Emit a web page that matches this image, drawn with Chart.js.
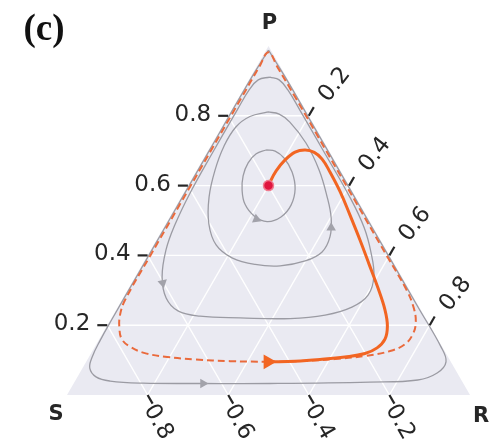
<!DOCTYPE html>
<html>
<head>
<meta charset="utf-8">
<script src="https://cdn.jsdelivr.net/npm/chart.js@4.4.1/dist/chart.umd.min.js"></script>
<style>
  html, body { margin: 0; padding: 0; background: #fff; }
  #wrap { width: 495px; height: 447px; position: relative; }
</style>
</head>
<body>
<div id="wrap"><canvas id="chart"></canvas></div>
<script>
// ternary points are [P, R]; S = 1 - P - R
const TICKS = [0.2, 0.4, 0.6, 0.8];
const PANEL_LABEL = '(c)';
const CORNER_LABELS = { P: 'P', S: 'S', R: 'R' };

const FIXED_POINT = [[0.6, 0.2]];

// orange trajectory between the fixed point and the bottom arrow
const SPIRAL = [
  [0.602, 0.199], [0.642, 0.198], [0.673, 0.204], [0.696, 0.218], [0.702, 0.240],
  [0.695, 0.266], [0.676, 0.295], [0.639, 0.333], [0.582, 0.387], [0.516, 0.444],
  [0.444, 0.505], [0.375, 0.562], [0.307, 0.618], [0.244, 0.667], [0.198, 0.696],
  [0.160, 0.709], [0.135, 0.702], [0.119, 0.680], [0.109, 0.635], [0.102, 0.577],
  [0.097, 0.517], [0.095, 0.456]
];

// dashed orange cycle near the boundary
const CYCLE = [
  [0.095, 0.451], [0.097, 0.530], [0.103, 0.613], [0.112, 0.684], [0.126, 0.739],
  [0.146, 0.766], [0.175, 0.771], [0.209, 0.761], [0.249, 0.736], [0.300, 0.693],
  [0.400, 0.593], [0.550, 0.443], [0.700, 0.293], [0.850, 0.143], [0.940, 0.052],
  [0.982, 0.009], [0.940, 0.007], [0.850, 0.007], [0.700, 0.007], [0.550, 0.007],
  [0.400, 0.007], [0.272, 0.008], [0.229, 0.017], [0.192, 0.034], [0.160, 0.056],
  [0.138, 0.088], [0.120, 0.133], [0.109, 0.194], [0.102, 0.267], [0.097, 0.356],
  [0.095, 0.451]
];

// neutral gray orbits, inner to outer
const ORBIT_1 = [
  [0.702, 0.143], [0.691, 0.124], [0.665, 0.117], [0.628, 0.123], [0.587, 0.141],
  [0.547, 0.168], [0.513, 0.208], [0.497, 0.248], [0.510, 0.276], [0.544, 0.284],
  [0.590, 0.271], [0.639, 0.239], [0.679, 0.199], [0.699, 0.167], [0.702, 0.143]
];
const ORBIT_2 = [
  [0.811, 0.093], [0.798, 0.055], [0.768, 0.035], [0.713, 0.033], [0.645, 0.045],
  [0.567, 0.069], [0.490, 0.107], [0.430, 0.155], [0.393, 0.213], [0.374, 0.280],
  [0.370, 0.344], [0.384, 0.399], [0.410, 0.428], [0.453, 0.426], [0.507, 0.402],
  [0.570, 0.360], [0.645, 0.303], [0.722, 0.232], [0.782, 0.162], [0.805, 0.124],
  [0.811, 0.093]
];
const ORBIT_3 = [
  [0.911, 0.048], [0.903, 0.023], [0.874, 0.015], [0.817, 0.014], [0.702, 0.014],
  [0.579, 0.016], [0.487, 0.024], [0.415, 0.038], [0.338, 0.067], [0.278, 0.107],
  [0.241, 0.155], [0.226, 0.217], [0.221, 0.319], [0.219, 0.444], [0.229, 0.526],
  [0.252, 0.581], [0.287, 0.604], [0.341, 0.591], [0.410, 0.549], [0.479, 0.498],
  [0.559, 0.426], [0.702, 0.284], [0.817, 0.169], [0.874, 0.111], [0.903, 0.075],
  [0.911, 0.048]
];
const ORBIT_4 = [
  [0.988, 0.006], [0.900, 0.003], [0.700, 0.003], [0.500, 0.003], [0.350, 0.003],
  [0.215, 0.003], [0.158, 0.004], [0.109, 0.008], [0.077, 0.018], [0.052, 0.046],
  [0.040, 0.087], [0.034, 0.171], [0.033, 0.321], [0.033, 0.487], [0.037, 0.733],
  [0.043, 0.849], [0.063, 0.887], [0.095, 0.893], [0.138, 0.859], [0.250, 0.747],
  [0.400, 0.597], [0.600, 0.397], [0.800, 0.197], [0.900, 0.097], [0.988, 0.006]
];

// flow arrows: position [P, R] and heading in degrees (clockwise from up, on screen)
const GRAY_ARROWS = [[0.504, 0.218], [0.479, 0.416], [0.321, 0.077], [0.033, 0.321]];
const GRAY_HEADINGS = [113, 0, 169, 90];
const ORANGE_ARROW = [[0.095, 0.451]];
const ORANGE_HEADING = [90];

const toXY = ([p, r]) => ({ x: r + p / 2, y: p });

function toPx(chart, p, r) {
  return [chart.scales.x.getPixelForValue(r + p / 2), chart.scales.y.getPixelForValue(p)];
}

const TEXT = '#262626';
const LABEL_FONT = '23px "DejaVu Sans"';

const ternaryFrame = {
  id: 'ternaryFrame',
  beforeDatasetsDraw(chart) {
    const { ctx } = chart;
    const pt = (p, r) => toPx(chart, p, r);
    const seg = (a, b) => { ctx.beginPath(); ctx.moveTo(a[0], a[1]); ctx.lineTo(b[0], b[1]); ctx.stroke(); };
    ctx.save();
    ctx.beginPath();
    [[0, 0], [0, 1], [1, 0]].forEach(([p, r], i) => {
      const [x, y] = pt(p, r);
      i ? ctx.lineTo(x, y) : ctx.moveTo(x, y);
    });
    ctx.closePath();
    ctx.fillStyle = '#eaeaf2';
    ctx.fill();

    ctx.strokeStyle = '#ffffff';
    ctx.lineWidth = 1.4;
    TICKS.forEach(v => {
      seg(pt(v, 0), pt(v, 1 - v));     // P = v
      seg(pt(0, v), pt(1 - v, v));     // R = v
      seg(pt(0, 1 - v), pt(1 - v, 0)); // S = v
    });
    ctx.restore();
  },
  afterDraw(chart) {
    const { ctx } = chart;
    const pt = (p, r) => toPx(chart, p, r);
    const c60 = Math.cos(Math.PI / 3), s60 = Math.sin(Math.PI / 3);
    ctx.save();
    ctx.strokeStyle = TEXT;
    ctx.fillStyle = TEXT;
    ctx.lineWidth = 2.2;
    ctx.font = LABEL_FONT;

    TICKS.forEach(v => {
      const label = v.toFixed(1);

      // left axis: P
      let [x, y] = pt(v, 0);
      ctx.beginPath(); ctx.moveTo(x - 10, y); ctx.lineTo(x, y); ctx.stroke();
      ctx.textAlign = 'right'; ctx.textBaseline = 'middle';
      ctx.fillText(label, x - 17, y - 1);

      // right axis: R
      [x, y] = pt(1 - v, v);
      ctx.beginPath(); ctx.moveTo(x, y); ctx.lineTo(x + 10 * c60, y - 10 * s60); ctx.stroke();
      ctx.save();
      ctx.translate(x + 26, y - 31);
      ctx.rotate(-52 * Math.PI / 180);
      ctx.textAlign = 'center'; ctx.textBaseline = 'middle';
      ctx.fillText(label, 0, 0);
      ctx.restore();

      // bottom axis: S
      [x, y] = pt(0, 1 - v);
      ctx.beginPath(); ctx.moveTo(x, y); ctx.lineTo(x + 10 * c60, y + 10 * s60); ctx.stroke();
      ctx.save();
      ctx.translate(x + 10.5, y + 27);
      ctx.rotate(60 * Math.PI / 180);
      ctx.textAlign = 'center'; ctx.textBaseline = 'middle';
      ctx.fillText(label, 0, 0);
      ctx.restore();
    });

    ctx.font = 'bold 21px "DejaVu Sans"';
    ctx.textAlign = 'center'; ctx.textBaseline = 'middle';
    let [x, y] = pt(1, 0);
    ctx.fillText(CORNER_LABELS.P, x + 1, y - 22);
    [x, y] = pt(0, 0);
    ctx.fillText(CORNER_LABELS.S, x - 11, y + 20);
    [x, y] = pt(0, 1);
    ctx.fillText(CORNER_LABELS.R, x + 11, y + 22);

    ctx.fillStyle = '#111';
    ctx.font = 'bold 37px "Liberation Serif"';
    ctx.fillText(PANEL_LABEL, 44, 30);
    ctx.restore();
  }
};

const curve = (data, color, width, dash) => ({
  data: data.map(toXY),
  showLine: true,
  borderColor: color,
  borderWidth: width,
  borderDash: dash || [],
  pointRadius: 0,
  tension: 0.4,
  clip: false
});

const arrows = (data, headings, color, radius) => ({
  data: data.map(toXY),
  showLine: false,
  pointStyle: 'triangle',
  pointRadius: radius,
  pointRotation: ctx => headings[ctx.dataIndex],
  backgroundColor: color,
  borderColor: color,
  borderWidth: 0,
  clip: false
});

// first dataset is drawn on top
new Chart(document.getElementById('chart'), {
  type: 'scatter',
  data: {
    datasets: [
      {
        data: FIXED_POINT.map(toXY),
        pointRadius: 5,
        pointStyle: 'circle',
        backgroundColor: '#e0163f',
        borderColor: '#f07a8e',
        borderWidth: 1.5,
        clip: false
      },
      arrows(ORANGE_ARROW, ORANGE_HEADING, '#f26522', 8.5),
      curve(SPIRAL, '#f26522', 3),
      curve(CYCLE, '#ea6a3c', 2, [7, 4]),
      arrows(GRAY_ARROWS, GRAY_HEADINGS, '#a2a2aa', 5.5),
      curve(ORBIT_1, '#9b9ba3', 1.3),
      curve(ORBIT_2, '#9b9ba3', 1.3),
      curve(ORBIT_3, '#9b9ba3', 1.3),
      curve(ORBIT_4, '#9b9ba3', 1.3)
    ]
  },
  options: {
    responsive: true,
    maintainAspectRatio: false,
    animation: false,
    events: [],
    layout: { padding: { left: 67, right: 25, top: 46, bottom: 52 } },
    scales: {
      x: { type: 'linear', min: 0, max: 1, display: false },
      y: { type: 'linear', min: 0, max: 1, display: false }
    },
    plugins: { legend: { display: false }, tooltip: { enabled: false } }
  },
  plugins: [ternaryFrame]
});
</script>
</body>
</html>
